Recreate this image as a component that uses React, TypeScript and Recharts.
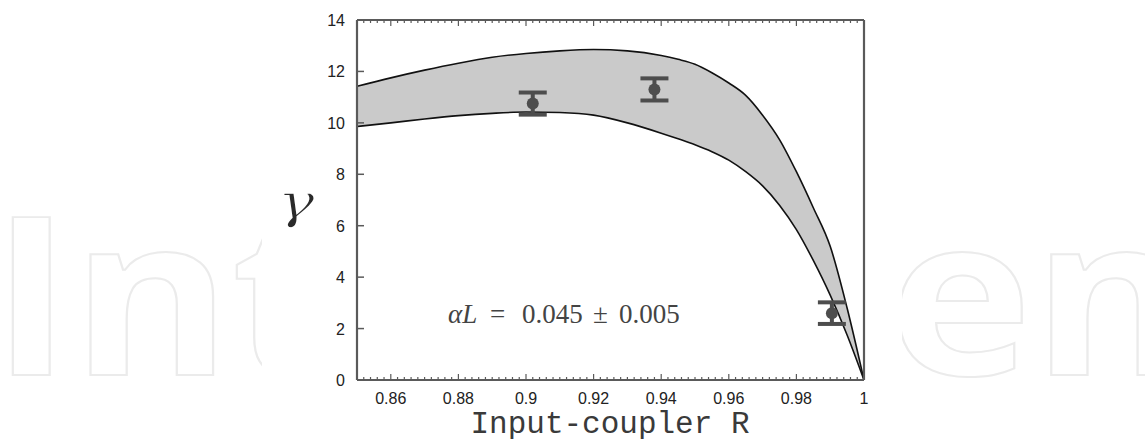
import React from "react";
import { ComposedChart, Area, Line, Scatter, ErrorBar, XAxis, YAxis } from "recharts";

// theory band (upper / lower gamma) vs input-coupler reflectivity
const rGrid = [0.85, 0.86, 0.87, 0.88, 0.89, 0.9, 0.91, 0.92, 0.93, 0.94, 0.945, 0.95, 0.955, 0.96, 0.965, 0.97, 0.975, 0.98, 0.985, 0.99, 0.995, 1.0];
const upperGamma = [11.42, 11.75, 12.05, 12.32, 12.55, 12.7, 12.8, 12.85, 12.8, 12.62, 12.47, 12.28, 11.95, 11.55, 11.07, 10.3, 9.35, 8.1, 6.7, 5.2, 2.8, 0];
const lowerGamma = [9.86, 10.0, 10.15, 10.28, 10.37, 10.42, 10.4, 10.3, 10.0, 9.6, 9.38, 9.15, 8.88, 8.55, 8.1, 7.55, 6.8, 5.85, 4.65, 3.3, 1.75, 0];

// measured points
const measR = [0.902, 0.938, 0.9905];
const measGamma = [10.75, 11.3, 2.6];
const measErr = [0.43, 0.43, 0.42];

const xMajor = [0.86, 0.88, 0.9, 0.92, 0.94, 0.96, 0.98, 1];
const yTicks = [0, 2, 4, 6, 8, 10, 12, 14];
const xMinor = Array.from({ length: 76 }, (_, k) => +(0.85 + k * 0.002).toFixed(3));

const band = rGrid.map((r, i) => ({ r, lo: lowerGamma[i], hi: upperGamma[i], range: [lowerGamma[i], upperGamma[i]] }));
const points = measR.map((r, i) => ({ r, g: measGamma[i], err: measErr[i] }));

const AX = "#5a5a5a";
const LABEL_FONT = "'Liberation Sans', Arial, sans-serif";
const isMajor = (v: number) => xMajor.some((m) => Math.abs(m - v) < 1e-6);
const fmt = (v: number) => (v === 1 ? "1" : String(+v.toFixed(2)));

const BottomTick = ({ x, y, payload }: any) => {
  const v = payload.value;
  const maj = isMajor(v);
  return (
    <g>
      <line x1={x} x2={x} y1={y} y2={y - (maj ? 6 : 3)} stroke={AX} strokeWidth={1.2} />
      {maj && (
        <text x={x} y={y + 24} textAnchor="middle" fontSize={16} fill="#222" fontFamily={LABEL_FONT}>
          {fmt(v)}
        </text>
      )}
    </g>
  );
};

const TopTick = ({ x, y, payload }: any) => {
  const maj = isMajor(payload.value);
  return <line x1={x} x2={x} y1={y} y2={y + (maj ? 6 : 3)} stroke={AX} strokeWidth={1.2} />;
};

const LeftTick = ({ x, y, payload }: any) => (
  <g>
    {payload.value !== 0 && payload.value !== 14 && <line x1={x} x2={x + 7} y1={y} y2={y} stroke={AX} strokeWidth={1.5} />}
    <text x={x - 12} y={y + 6} textAnchor="end" fontSize={16} fill="#222" fontFamily={LABEL_FONT}>
      {payload.value}
    </text>
  </g>
);

const RightTick = ({ x, y, payload }: any) =>
  payload.value !== 0 && payload.value !== 14 ? <line x1={x} x2={x - 7} y1={y} y2={y} stroke={AX} strokeWidth={1.5} /> : <g />;

const Dot = ({ cx, cy }: any) => <circle cx={cx} cy={cy} r={6} fill="#4d4d4d" />;

const wm = {
  fontFamily: "'Open Sans', sans-serif",
  fontWeight: 700,
  fontSize: 221,
  fill: "#fff",
  stroke: "#ebebeb",
  strokeWidth: 2,
};

export default function App() {
  return (
    <div style={{ position: "absolute", left: 0, top: 0, width: 1145, height: 439, background: "#fff", overflow: "hidden" }}>
      <svg width={1145} height={439} style={{ position: "absolute", left: 0, top: 0 }}>
        <text x={0} y={0} transform="translate(-9 375) scale(1.1 1)" {...wm}>
          Inte
        </text>
        <text x={0} y={0} transform="translate(1192 375) scale(1.1 1)" textAnchor="end" {...wm}>
          Open
        </text>
      </svg>
      <div style={{ position: "absolute", left: 262, top: 0, width: 640, height: 439, background: "#fff" }}>
        <ComposedChart width={640} height={439} margin={{ top: 19, right: 37, bottom: 58, left: 94 }}>
          <XAxis
            xAxisId="b"
            dataKey="r"
            type="number"
            domain={[0.85, 1]}
            ticks={xMinor}
            interval={0}
            tickSize={0}
            tickMargin={0}
            height={1}
            axisLine={{ stroke: AX, strokeWidth: 2.2 }}
            tickLine={false}
            tick={BottomTick}
            allowDataOverflow
          />
          <XAxis
            xAxisId="t"
            orientation="top"
            dataKey="r"
            type="number"
            domain={[0.85, 1]}
            ticks={xMinor}
            interval={0}
            tickSize={0}
            tickMargin={0}
            height={1}
            axisLine={{ stroke: AX, strokeWidth: 2.2 }}
            tickLine={false}
            tick={TopTick}
            allowDataOverflow
          />
          <YAxis
            yAxisId="l"
            type="number"
            domain={[0, 14]}
            ticks={yTicks}
            interval={0}
            tickSize={0}
            tickMargin={0}
            width={1}
            axisLine={{ stroke: AX, strokeWidth: 2.2 }}
            tickLine={false}
            tick={LeftTick}
          />
          <YAxis
            yAxisId="r"
            orientation="right"
            type="number"
            domain={[0, 14]}
            ticks={yTicks}
            interval={0}
            tickSize={0}
            tickMargin={0}
            width={1}
            axisLine={{ stroke: AX, strokeWidth: 2.2 }}
            tickLine={false}
            tick={RightTick}
          />
          <Area
            xAxisId="b"
            yAxisId="l"
            data={band}
            dataKey="range"
            type="monotone"
            fill="#cacaca"
            fillOpacity={1}
            stroke="none"
            isAnimationActive={false}
          />
          <Line xAxisId="b" yAxisId="l" data={band} dataKey="hi" type="monotone" stroke="#111" strokeWidth={1.6} dot={false} isAnimationActive={false} />
          <Line xAxisId="b" yAxisId="l" data={band} dataKey="lo" type="monotone" stroke="#111" strokeWidth={1.6} dot={false} isAnimationActive={false} />
          <Scatter xAxisId="b" yAxisId="l" data={points} dataKey="g" shape={Dot} isAnimationActive={false}>
            <ErrorBar dataKey="err" direction="y" width={14} strokeWidth={4} stroke="#4d4d4d" />
          </Scatter>
        </ComposedChart>
        <svg width={640} height={439} style={{ position: "absolute", left: 0, top: 0, pointerEvents: "none" }}>
          <text
            x={0}
            y={0}
            transform="translate(34 218) scale(1.3 1)"
            textAnchor="middle"
            fontSize={48}
            fontStyle="italic"
            fontFamily="'DejaVu Serif', serif"
            fill="#2a2a2a"
            stroke="#fff"
            strokeWidth={1.3}
          >
            γ
          </text>
          <g fontSize={27} fontFamily="'Liberation Serif', serif" fill="#444">
            <text x={186} y={323} fontStyle="italic">αL</text>
            <text x={228} y={323}>=</text>
            <text x={260} y={323}>0.045</text>
            <text x={331} y={323}>±</text>
            <text x={357} y={323}>0.005</text>
          </g>
          <text x={348} y={433} textAnchor="middle" fontSize={31} fontFamily="'Liberation Mono', monospace" fill="#3a3a3a">
            Input-coupler R
          </text>
        </svg>
      </div>
    </div>
  );
}
